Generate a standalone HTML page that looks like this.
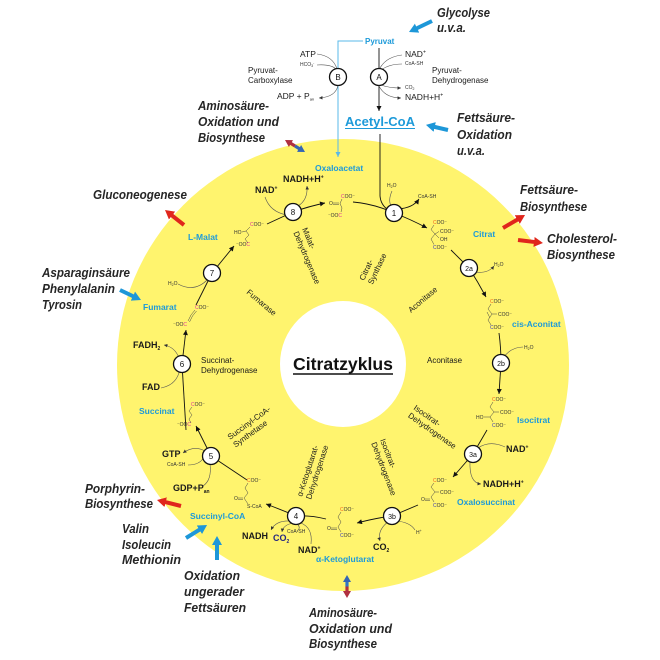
<!DOCTYPE html>
<html><head><meta charset="utf-8"><style>
html,body{margin:0;padding:0;background:#fff}
svg{display:block}
text{font-family:"Liberation Sans",sans-serif}
.lab{font-style:italic;font-weight:bold;font-size:13px;fill:#262626}
.bl{font-weight:bold;font-size:8.5px;fill:#1d9ad9}
.co{font-weight:bold;font-size:9px;fill:#1a1a1a}
.en{font-size:8px;fill:#1a1a1a}
.tn{font-size:5px;fill:#333}
.m{fill:none;stroke:#111;stroke-width:0.9}
.g{fill:none;stroke:#555;stroke-width:0.6}
.st{fill:none;stroke:#444;stroke-width:0.5}
.pk{fill:#e0309a}
.or{fill:#f0641e}
.bc{fill:#3a3ac0}
.nd{fill:#fff;stroke:#111;stroke-width:1.3}
.nt{font-size:8px;fill:#111;text-anchor:middle}
</style></head><body>
<svg width="660" height="660" viewBox="0 0 660 660" xmlns="http://www.w3.org/2000/svg">
<defs>
<marker id="ak" viewBox="0 0 6 6" refX="6" refY="3" markerWidth="5.5" markerHeight="5" orient="auto" markerUnits="userSpaceOnUse"><path d="M0,0 L6,3 L0,6 z" fill="#111"/></marker>
<marker id="ag" viewBox="0 0 6 6" refX="6" refY="3" markerWidth="3.5" markerHeight="3.5" orient="auto" markerUnits="userSpaceOnUse"><path d="M0,0 L6,3 L0,6 z" fill="#333"/></marker>
<marker id="alb" viewBox="0 0 6 6" refX="6" refY="3" markerWidth="5" markerHeight="5" orient="auto" markerUnits="userSpaceOnUse"><path d="M0,0 L6,3 L0,6 z" fill="#5ab8e8"/></marker>
<marker id="mb" viewBox="0 0 9 10" refX="2" refY="5" markerWidth="9" markerHeight="10" orient="auto" markerUnits="userSpaceOnUse"><path d="M0,0 L9,5 L0,10z" fill="#1d97d8"/></marker>
<marker id="mr" viewBox="0 0 9 10" refX="2" refY="5" markerWidth="9" markerHeight="10" orient="auto" markerUnits="userSpaceOnUse"><path d="M0,0 L9,5 L0,10z" fill="#e0261c"/></marker>
<marker id="mdr" viewBox="0 0 7 8" refX="1.5" refY="4" markerWidth="7" markerHeight="8" orient="auto" markerUnits="userSpaceOnUse"><path d="M0,0 L7,4 L0,8z" fill="#b0303f"/></marker>
<marker id="mdb" viewBox="0 0 7 8" refX="1.5" refY="4" markerWidth="7" markerHeight="8" orient="auto" markerUnits="userSpaceOnUse"><path d="M0,0 L7,4 L0,8z" fill="#3566b4"/></marker>
</defs>

<!-- disks -->
<circle cx="343" cy="365" r="226" fill="#fff46e"/>
<circle cx="343" cy="364" r="63" fill="#fff"/>

<!-- side labels -->
<text class="lab" x="437" y="17" textLength="53" lengthAdjust="spacingAndGlyphs">Glycolyse</text>
<text class="lab" x="437" y="32" textLength="29" lengthAdjust="spacingAndGlyphs">u.v.a.</text>
<text class="lab" x="457" y="122" textLength="58" lengthAdjust="spacingAndGlyphs">Fettsäure-</text>
<text class="lab" x="457" y="139" textLength="55" lengthAdjust="spacingAndGlyphs">Oxidation</text>
<text class="lab" x="457" y="155" textLength="28" lengthAdjust="spacingAndGlyphs">u.v.a.</text>
<text class="lab" x="198" y="110" textLength="71" lengthAdjust="spacingAndGlyphs">Aminosäure-</text>
<text class="lab" x="198" y="126" textLength="81" lengthAdjust="spacingAndGlyphs">Oxidation und</text>
<text class="lab" x="198" y="142" textLength="67" lengthAdjust="spacingAndGlyphs">Biosynthese</text>
<text class="lab" x="93" y="199" textLength="94" lengthAdjust="spacingAndGlyphs">Gluconeogenese</text>
<text class="lab" x="42" y="277" textLength="88" lengthAdjust="spacingAndGlyphs">Asparaginsäure</text>
<text class="lab" x="42" y="293" textLength="73" lengthAdjust="spacingAndGlyphs">Phenylalanin</text>
<text class="lab" x="42" y="309" textLength="40" lengthAdjust="spacingAndGlyphs">Tyrosin</text>
<text class="lab" x="520" y="194" textLength="58" lengthAdjust="spacingAndGlyphs">Fettsäure-</text>
<text class="lab" x="520" y="211" textLength="67" lengthAdjust="spacingAndGlyphs">Biosynthese</text>
<text class="lab" x="547" y="243" textLength="70" lengthAdjust="spacingAndGlyphs">Cholesterol-</text>
<text class="lab" x="547" y="259" textLength="68" lengthAdjust="spacingAndGlyphs">Biosynthese</text>
<text class="lab" x="85" y="493" textLength="60" lengthAdjust="spacingAndGlyphs">Porphyrin-</text>
<text class="lab" x="85" y="508" textLength="68" lengthAdjust="spacingAndGlyphs">Biosynthese</text>
<text class="lab" x="122" y="533" textLength="27" lengthAdjust="spacingAndGlyphs">Valin</text>
<text class="lab" x="122" y="549" textLength="49" lengthAdjust="spacingAndGlyphs">Isoleucin</text>
<text class="lab" x="122" y="564" textLength="59" lengthAdjust="spacingAndGlyphs">Methionin</text>
<text class="lab" x="184" y="580" textLength="56" lengthAdjust="spacingAndGlyphs">Oxidation</text>
<text class="lab" x="184" y="596" textLength="60" lengthAdjust="spacingAndGlyphs">ungerader</text>
<text class="lab" x="184" y="612" textLength="62" lengthAdjust="spacingAndGlyphs">Fettsäuren</text>
<text class="lab" x="309" y="617" textLength="68" lengthAdjust="spacingAndGlyphs">Aminosäure-</text>
<text class="lab" x="309" y="633" textLength="83" lengthAdjust="spacingAndGlyphs">Oxidation und</text>
<text class="lab" x="309" y="648" textLength="68" lengthAdjust="spacingAndGlyphs">Biosynthese</text>

<!-- fat arrows -->
<g stroke-width="4" fill="none">
<line x1="432" y1="21" x2="415.3" y2="29" stroke="#1d97d8" marker-end="url(#mb)"/>
<line x1="448" y1="130" x2="432.8" y2="126.5" stroke="#1d97d8" marker-end="url(#mb)"/>
<line x1="120" y1="290" x2="134.7" y2="297" stroke="#1d97d8" marker-end="url(#mb)"/>
<line x1="186" y1="538" x2="201.1" y2="528.7" stroke="#1d97d8" marker-end="url(#mb)"/>
<line x1="217" y1="560" x2="217" y2="543" stroke="#1d97d8" marker-end="url(#mb)"/>
<line x1="184" y1="225" x2="170.5" y2="214.3" stroke="#e0261c" marker-end="url(#mr)"/>
<line x1="503" y1="228" x2="519" y2="218.6" stroke="#e0261c" marker-end="url(#mr)"/>
<line x1="518" y1="240" x2="536" y2="242.2" stroke="#e0261c" marker-end="url(#mr)"/>
<line x1="181" y1="506" x2="163.8" y2="501.7" stroke="#e0261c" marker-end="url(#mr)"/>
</g>
<g stroke-width="3.2" fill="none">
<line x1="295" y1="146" x2="289.7" y2="142.8" stroke="#b0303f" marker-end="url(#mdr)"/>
<line x1="295" y1="146" x2="300.3" y2="149.2" stroke="#3566b4" marker-end="url(#mdb)"/>
<line x1="347" y1="586.5" x2="347" y2="580.5" stroke="#3176c4" marker-end="url(#mdb)"/>
<line x1="347" y1="586.5" x2="347" y2="592.5" stroke="#b0303f" marker-end="url(#mdr)"/>
</g>

<!-- Pyruvat section -->
<text class="bl" x="365" y="44" style="font-size:8px">Pyruvat</text>
<path d="M363,41 L338,41 L338,157" stroke="#5ab8e8" stroke-width="1" fill="none" marker-end="url(#alb)"/>
<path class="m" d="M379,48 L379,111" marker-end="url(#ak)"/>
<path class="g" d="M379,70 Q385,57 402,55"/>
<path class="g" d="M379,72 Q387,64 402,64"/>
<path class="g" d="M379,84 Q387,88 401,88" marker-end="url(#ag)"/>
<path class="g" d="M379,86 Q385,98 401,98" marker-end="url(#ag)"/>
<path class="g" d="M317,54 Q333,56 337,69"/>
<path class="g" d="M317,65 Q332,64 337,70"/>
<path class="g" d="M338,85 Q336,97 319,98" marker-end="url(#ag)"/>
<circle class="nd" cx="379" cy="77" r="8.5"/><text class="nt" x="379" y="80">A</text>
<circle class="nd" cx="338" cy="77" r="8.5"/><text class="nt" x="338" y="80">B</text>
<text class="en" x="300" y="57" style="font-size:8.5px">ATP</text>
<text class="tn" x="300" y="66">HCO<tspan font-size="3.5" dy="1">3</tspan><tspan font-size="3.5" dy="-3">-</tspan></text>
<text class="en" x="248" y="73">Pyruvat-</text>
<text class="en" x="248" y="83">Carboxylase</text>
<text class="en" x="277" y="99" style="font-size:8.5px">ADP + P<tspan font-size="4" dy="1.5">an</tspan></text>
<text class="en" x="405" y="57" style="font-size:8.5px">NAD<tspan font-size="5" dy="-3.5">+</tspan></text>
<text class="tn" x="405" y="65">CoA-SH</text>
<text class="en" x="432" y="73">Pyruvat-</text>
<text class="en" x="432" y="83">Dehydrogenase</text>
<text class="tn" x="405" y="89">CO<tspan font-size="3.5" dy="1">2</tspan></text>
<text class="en" x="405" y="100" style="font-size:8.5px">NADH+H<tspan font-size="5" dy="-3.5">+</tspan></text>

<text x="345" y="126" style="font-weight:bold;font-size:13px;fill:#1d9ad9" textLength="70" lengthAdjust="spacingAndGlyphs">Acetyl-CoA</text>
<line x1="345" y1="128.5" x2="415" y2="128.5" stroke="#1d9ad9" stroke-width="1"/>

<!-- main cycle arrows -->
<path class="m" d="M380,134 L380,196 Q381,208 394,213"/>
<path class="m" d="M353,202 Q375,204 394,213"/>
<path class="m" d="M394,213 Q410,219 427,228" marker-end="url(#ak)"/>
<path class="m" d="M398,209 Q413,208 419,199" marker-end="url(#ak)"/>
<path class="g" d="M392,191 Q388,200 391,206"/>
<path class="m" d="M451,250 L469,268"/>
<path class="m" d="M469,268 Q478,282 486,297" marker-end="url(#ak)"/>
<path class="g" d="M474,272 Q488,274 494,266" marker-end="url(#ag)"/>
<path class="m" d="M499,333 Q501,348 501,363"/>
<path class="m" d="M501,363 L499,394" marker-end="url(#ak)"/>
<path class="g" d="M503,358 Q511,347 523,347"/>
<path class="m" d="M487,430 L473,454"/>
<path class="m" d="M473,454 L453,477" marker-end="url(#ak)"/>
<path class="g" d="M478,448 Q490,440 505,447"/>
<path class="g" d="M470,461 Q469,483 481,484" marker-end="url(#ag)"/>
<path class="m" d="M418,505 L392,516"/>
<path class="m" d="M392,516 Q376,518 357,523" marker-end="url(#ak)"/>
<path class="g" d="M389,521 Q377,530 380,541" marker-end="url(#ag)"/>
<path class="g" d="M396,521 Q410,522 415,530"/>
<path class="m" d="M326,519 Q310,515 296,516"/>
<path class="m" d="M296,516 Q282,510 266,504" marker-end="url(#ak)"/>
<path class="g" d="M291,521 Q276,520 271,530" marker-end="url(#ag)"/>
<path class="g" d="M293,523 Q283,525 282,532" marker-end="url(#ag)"/>
<path class="g" d="M298,525 Q301,528 297,531"/>
<path class="g" d="M301,523 Q313,528 311,544"/>
<path class="m" d="M247,480 L211,456"/>
<path class="m" d="M211,456 L196,426" marker-end="url(#ak)"/>
<path class="g" d="M205,451 Q194,445 183,453" marker-end="url(#ag)"/>
<path class="g" d="M204,457 Q200,465 188,465"/>
<path class="g" d="M210,464 Q212,480 203,486"/>
<path class="m" d="M186,430 L182,364"/>
<path class="m" d="M182,364 L186,330" marker-end="url(#ak)"/>
<path class="g" d="M179,358 Q175,347 164,345" marker-end="url(#ag)"/>
<path class="g" d="M180,369 Q177,385 161,388"/>
<path class="m" d="M196,305 L212,273"/>
<path class="m" d="M212,273 L234,246" marker-end="url(#ak)"/>
<path class="g" d="M208,279 Q195,293 178,284"/>
<path class="m" d="M267,224 L293,212"/>
<path class="m" d="M293,212 Q310,206 325,203" marker-end="url(#ak)"/>
<path class="g" d="M265,197 Q270,212 287,215"/>
<path class="g" d="M298,206 Q308,200 307,186" marker-end="url(#ag)"/>

<!-- nodes -->
<circle class="nd" cx="293" cy="212" r="8.5"/><text class="nt" x="293" y="215">8</text>
<circle class="nd" cx="394" cy="213" r="8.5"/><text class="nt" x="394" y="216">1</text>
<circle class="nd" cx="212" cy="273" r="8.5"/><text class="nt" x="212" y="276">7</text>
<circle class="nd" cx="182" cy="364" r="8.5"/><text class="nt" x="182" y="367">6</text>
<circle class="nd" cx="469" cy="268" r="8.5"/><text class="nt" x="469" y="271" style="font-size:7px">2a</text>
<circle class="nd" cx="501" cy="363" r="8.5"/><text class="nt" x="501" y="366" style="font-size:7px">2b</text>
<circle class="nd" cx="473" cy="454" r="8.5"/><text class="nt" x="473" y="457" style="font-size:7px">3a</text>
<circle class="nd" cx="392" cy="516" r="8.5"/><text class="nt" x="392" y="519" style="font-size:7px">3b</text>
<circle class="nd" cx="296" cy="516" r="8.5"/><text class="nt" x="296" y="519">4</text>
<circle class="nd" cx="211" cy="456" r="8.5"/><text class="nt" x="211" y="459">5</text>

<!-- molecules -->
<text class="tn" x="341" y="198"><tspan class="pk">C</tspan>OO⁻</text>
<text class="tn" x="329" y="205">O</text>
<text class="tn" x="328" y="217">⁻OO<tspan class="pk">C</tspan></text>
<path class="st" d="M342,199 L340,203.5 L342,208 L341,212 M333,203 L339,203 M333,204.5 L339,204.5"/>

<text class="tn" x="433" y="224"><tspan class="or">C</tspan>OO⁻</text>
<text class="tn" x="440" y="233">COO⁻</text>
<text class="tn" x="440" y="241">OH</text>
<text class="tn" x="433" y="249"><tspan class="bc">C</tspan>OO⁻</text>
<path class="st" d="M434,225 L431,229.5 L435,234 L431,239 L434,244.5 M435,234 L439,231.5 M435,234 L439,238"/>

<text class="tn" x="490" y="303"><tspan class="or">C</tspan>OO⁻</text>
<text class="tn" x="498" y="316">COO⁻</text>
<text class="tn" x="490" y="329"><tspan class="bc">C</tspan>OO⁻</text>
<path class="st" d="M491,304 L488,309 L492,314 L488,320 L491,325 M492,314 L497,314 M490,318 L487,312"/>

<text class="tn" x="492" y="401"><tspan class="or">C</tspan>OO⁻</text>
<text class="tn" x="500" y="414">COO⁻</text>
<text class="tn" x="476" y="419">HO</text>
<text class="tn" x="492" y="427"><tspan class="bc">C</tspan>OO⁻</text>
<path class="st" d="M493,402 L490,407 L494,412 L490,417 L493,422 M494,412 L499,412 M490,417 L484,417"/>

<text class="tn" x="433" y="482"><tspan class="or">C</tspan>OO⁻</text>
<text class="tn" x="440" y="494">COO⁻</text>
<text class="tn" x="421" y="501">O</text>
<text class="tn" x="433" y="507"><tspan class="bc">C</tspan>OO⁻</text>
<path class="st" d="M434,483 L431,487 L435,492 L431,497 L434,502 M435,492 L439,492 M425,499 L430,499 M425,500.5 L430,500.5"/>

<text class="tn" x="340" y="511"><tspan class="or">C</tspan>OO⁻</text>
<text class="tn" x="327" y="530">O</text>
<text class="tn" x="340" y="537"><tspan class="bc">C</tspan>OO⁻</text>
<path class="st" d="M341,512 L338,517 L341,522 L338,527 L341,532 M331,528 L337,528 M331,529.5 L337,529.5"/>

<text class="tn" x="247" y="482"><tspan class="or">C</tspan>OO⁻</text>
<text class="tn" x="234" y="500">O</text>
<text class="tn" x="247" y="508">S-CoA</text>
<path class="st" d="M248,483 L245,488 L248,493 L244,498 L248,504 M238,498 L243,498 M238,499.5 L243,499.5"/>

<text class="tn" x="191" y="406"><tspan class="pk">C</tspan>OO⁻</text>
<text class="tn" x="177" y="426">⁻OO<tspan class="pk">C</tspan></text>
<path class="st" d="M192,407 L189,411 L192,415 L189,419 L191,423"/>

<text class="tn" x="195" y="309"><tspan class="pk">C</tspan>OO⁻</text>
<text class="tn" x="173" y="326">⁻OO<tspan class="pk">C</tspan></text>
<path class="st" d="M195,310 L191,315 L188,321 M196.5,311 L192.5,316 L189.5,322"/>

<text class="tn" x="250" y="226"><tspan class="pk">C</tspan>OO⁻</text>
<text class="tn" x="234" y="234">HO</text>
<text class="tn" x="236" y="246">⁻OO<tspan class="pk">C</tspan></text>
<path class="st" d="M250,227 L246,231 L249,235 L245,239 L248,243 M246,231 L242,232"/>

<!-- small labels -->
<text class="tn" x="387" y="187">H<tspan font-size="3.5" dy="1">2</tspan><tspan dy="-1">O</tspan></text>
<text class="tn" x="418" y="198">CoA-SH</text>
<text class="tn" x="168" y="285">H<tspan font-size="3.5" dy="1">2</tspan><tspan dy="-1">O</tspan></text>
<text class="tn" x="494" y="266">H<tspan font-size="3.5" dy="1">2</tspan><tspan dy="-1">O</tspan></text>
<text class="tn" x="524" y="349">H<tspan font-size="3.5" dy="1">2</tspan><tspan dy="-1">O</tspan></text>
<text class="tn" x="416" y="534">H<tspan font-size="3.5" dy="-2">+</tspan></text>
<text class="tn" x="287" y="533">CoA-SH</text>
<text class="tn" x="167" y="466">CoA-SH</text>

<!-- cofactors -->
<text class="co" x="255" y="193">NAD<tspan font-size="5" dy="-3.5">+</tspan></text>
<text class="co" x="283" y="182">NADH+H<tspan font-size="5" dy="-3.5">+</tspan></text>
<text class="co" x="506" y="452">NAD<tspan font-size="5" dy="-3.5">+</tspan></text>
<text class="co" x="483" y="487">NADH+H<tspan font-size="5" dy="-3.5">+</tspan></text>
<text class="co" x="373" y="550">CO<tspan font-size="5" dy="2">2</tspan></text>
<text class="co" x="298" y="553">NAD<tspan font-size="5" dy="-3.5">+</tspan></text>
<text class="co" x="242" y="539">NADH</text>
<text class="co" x="273" y="541" style="fill:#262680">CO<tspan font-size="5" dy="2">2</tspan></text>
<text class="co" x="162" y="457">GTP</text>
<text class="co" x="173" y="491">GDP+P<tspan font-size="5" dy="2">an</tspan></text>
<text class="co" x="133" y="348">FADH<tspan font-size="5" dy="2">2</tspan></text>
<text class="co" x="142" y="390">FAD</text>

<!-- blue metabolite labels -->
<text class="bl" x="315" y="171">Oxaloacetat</text>
<text class="bl" x="473" y="237">Citrat</text>
<text class="bl" x="512" y="327">cis-Aconitat</text>
<text class="bl" x="517" y="423">Isocitrat</text>
<text class="bl" x="457" y="505">Oxalosuccinat</text>
<text class="bl" x="316" y="562">α-Ketoglutarat</text>
<text class="bl" x="190" y="519">Succinyl-CoA</text>
<text class="bl" x="139" y="414">Succinat</text>
<text class="bl" x="143" y="310">Fumarat</text>
<text class="bl" x="188" y="240">L-Malat</text>

<!-- enzyme labels -->
<g transform="translate(302,229) rotate(67)"><text class="en" x="0" y="0">Malat-</text><text class="en" x="0" y="9.5">Dehydrogenase</text></g>
<g transform="translate(364,281) rotate(-65)"><text class="en" x="0" y="0">Citrat-</text><text class="en" x="0" y="9.5">Synthase</text></g>
<g transform="translate(411,313) rotate(-40)"><text class="en" x="0" y="0">Aconitase</text></g>
<text class="en" x="427" y="363">Aconitase</text>
<g transform="translate(413,409) rotate(35)"><text class="en" x="0" y="0">Isocitrat-</text><text class="en" x="0" y="9.5">Dehydrogenase</text></g>
<g transform="translate(380,440) rotate(69)"><text class="en" x="0" y="0">Isocitrat-</text><text class="en" x="0" y="9.5">Dehydrogenase</text></g>
<g transform="translate(302,497) rotate(-72)"><text class="en" x="0" y="0">α-Ketoglutarat-</text><text class="en" x="0" y="9.5">Dehydrogenase</text></g>
<g transform="translate(230,440) rotate(-36)"><text class="en" x="0" y="0">Succinyl-CoA-</text><text class="en" x="0" y="9.5">Synthetase</text></g>
<g transform="translate(246,293) rotate(40)"><text class="en" x="0" y="0">Fumarase</text></g>
<text class="en" x="201" y="363">Succinat-</text>
<text class="en" x="201" y="373">Dehydrogenase</text>

<!-- center -->
<text x="343" y="370" text-anchor="middle" style="font-weight:bold;font-size:17.5px;fill:#111" textLength="100" lengthAdjust="spacingAndGlyphs">Citratzyklus</text>
<line x1="293" y1="374" x2="393" y2="374" stroke="#111" stroke-width="1.4"/>
</svg>
</body></html>
